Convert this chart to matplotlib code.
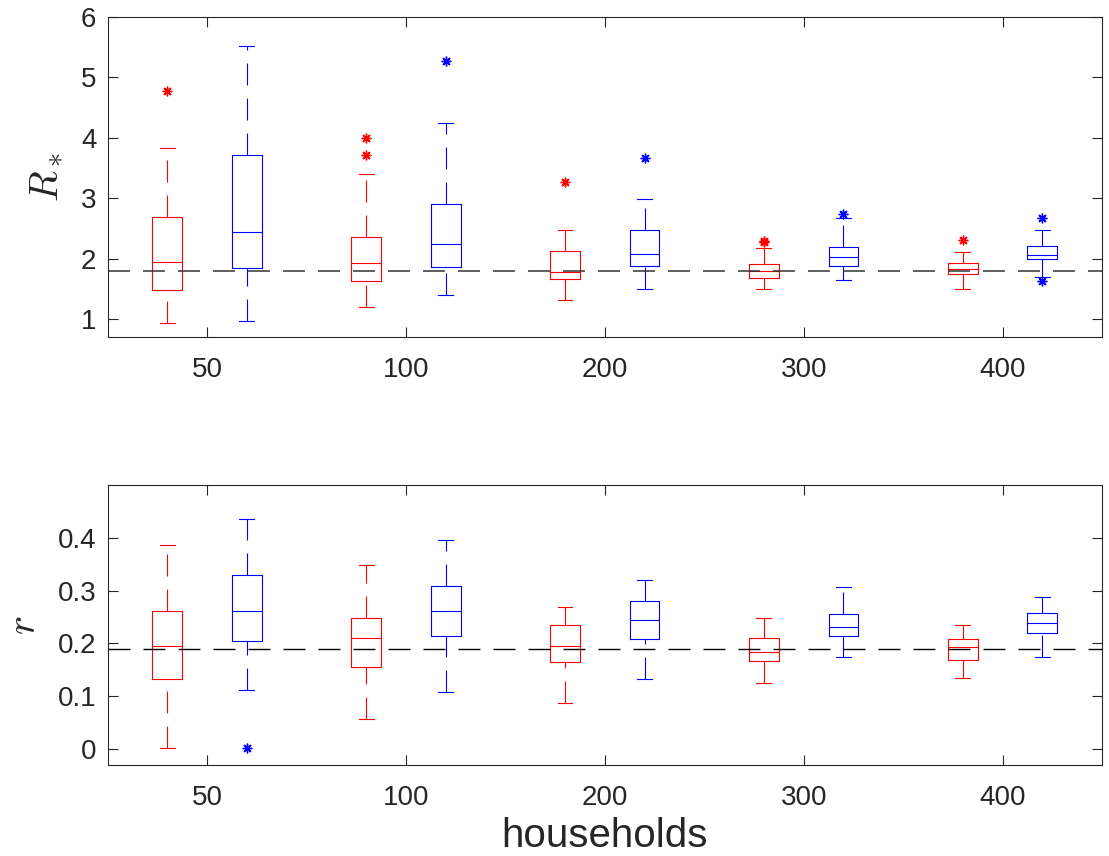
import matplotlib
matplotlib.use("Agg")
import matplotlib.pyplot as plt

plt.rcParams['font.family'] = ['Liberation Sans', 'DejaVu Sans']
plt.rcParams['mathtext.fontset'] = 'cm'
plt.rcParams['lines.scale_dashes'] = False

# ---------------- data ----------------
groups = ['50', '100', '200', '300', '400']

# R_* (top panel)
R_red_whislo = [0.93, 1.20, 1.32, 1.49, 1.49]
R_red_q1 = [1.48, 1.63, 1.66, 1.67, 1.74]
R_red_med = [1.94, 1.92, 1.78, 1.80, 1.82]
R_red_q3 = [2.69, 2.35, 2.13, 1.91, 1.93]
R_red_whishi = [3.83, 3.40, 2.47, 2.18, 2.10]
R_red_fliers = [[4.77], [3.72, 4.00], [3.27], [2.27, 2.29], [2.30]]

R_blue_whislo = [0.96, 1.39, 1.49, 1.65, 1.70]
R_blue_q1 = [1.835, 1.86, 1.87, 1.88, 1.99]
R_blue_med = [2.435, 2.24, 2.07, 2.02, 2.06]
R_blue_q3 = [3.71, 2.91, 2.47, 2.19, 2.21]
R_blue_whishi = [5.52, 4.24, 2.99, 2.67, 2.48]
R_blue_fliers = [[], [5.27], [3.67], [2.74], [2.67, 1.63]]

R_ref = 1.80

# r (bottom panel)
r_red_whislo = [0.003, 0.058, 0.087, 0.126, 0.134]
r_red_q1 = [0.133, 0.156, 0.165, 0.167, 0.168]
r_red_med = [0.196, 0.211, 0.195, 0.183, 0.193]
r_red_q3 = [0.261, 0.249, 0.235, 0.211, 0.208]
r_red_whishi = [0.386, 0.349, 0.270, 0.249, 0.235]
r_red_fliers = [[], [], [], [], []]

r_blue_whislo = [0.112, 0.109, 0.132, 0.174, 0.175]
r_blue_q1 = [0.204, 0.214, 0.208, 0.215, 0.220]
r_blue_med = [0.261, 0.261, 0.245, 0.231, 0.238]
r_blue_q3 = [0.329, 0.309, 0.281, 0.255, 0.257]
r_blue_whishi = [0.435, 0.396, 0.320, 0.306, 0.288]
r_blue_fliers = [[0.003], [], [], [], []]

r_ref = 0.189

# ---------------- style ----------------
TXT = '#262626'
DASH = (0, (15.8, 9.4))
ASTERISK = (8, 2, 0)


def make_stats(lo, q1, med, q3, hi, fl):
    return [dict(whislo=a, q1=b, med=c, q3=d, whishi=e, fliers=f)
            for a, b, c, d, e, f in zip(lo, q1, med, q3, hi, fl)]


def draw_boxes(ax, stats, positions, color):
    lw = 0.8
    res = ax.bxp(stats, positions=positions, widths=0.15, capwidths=0.075,
                 boxprops=dict(color=color, linewidth=lw),
                 medianprops=dict(color=color, linewidth=lw),
                 whiskerprops=dict(color=color, linewidth=lw, linestyle=DASH),
                 capprops=dict(color=color, linewidth=lw),
                 flierprops=dict(marker=ASTERISK, markeredgecolor=color,
                                 markerfacecolor=color, markersize=7,
                                 markeredgewidth=1.0, linestyle='none'),
                 manage_ticks=False)
    # MATLAB draws whiskers from low to high value
    for i, w in enumerate(res['whiskers']):
        if i % 2 == 0:
            x, y = w.get_data()
            w.set_data(list(x)[::-1], list(y)[::-1])
    return res


def style_axes(ax):
    for s in ax.spines.values():
        s.set_color(TXT)
        s.set_linewidth(0.8)
    ax.tick_params(direction='in', length=7, width=0.8, top=True, right=True,
                   labelsize=20, colors=TXT, pad=8)
    ax.tick_params(axis='x', pad=14.5)
    ax.set_xlim(0.5, 5.5)
    ax.set_xticks(range(1, len(groups) + 1))
    ax.set_xticklabels(groups)


fig = plt.figure(figsize=(11.09, 8.56), dpi=100)
W, H = 1109, 856
ax1 = fig.add_axes([107.5 / W, 1 - 337 / H, 994.5 / W, 320 / H])
ax2 = fig.add_axes([107.5 / W, 1 - 765 / H, 994.5 / W, 280 / H])

pos = list(range(1, len(groups) + 1))
pos_red = [p - 0.2 for p in pos]
pos_blue = [p + 0.2 for p in pos]

draw_boxes(ax1, make_stats(R_red_whislo, R_red_q1, R_red_med, R_red_q3,
                           R_red_whishi, R_red_fliers), pos_red, 'red')
draw_boxes(ax1, make_stats(R_blue_whislo, R_blue_q1, R_blue_med, R_blue_q3,
                           R_blue_whishi, R_blue_fliers), pos_blue, 'blue')
ax1.axhline(R_ref, color='#333333', linewidth=1.1, linestyle=DASH, zorder=5)
style_axes(ax1)
ax1.set_ylim(0.7, 6)
ax1.set_yticks([1, 2, 3, 4, 5, 6])
ax1.set_ylabel(r'$R_*$', fontsize=29, color=TXT)
ax1.yaxis.label.set_va('center')
ax1.yaxis.set_label_coords((46 - 107.5) / 994.5, 0.5)

draw_boxes(ax2, make_stats(r_red_whislo, r_red_q1, r_red_med, r_red_q3,
                           r_red_whishi, r_red_fliers), pos_red, 'red')
draw_boxes(ax2, make_stats(r_blue_whislo, r_blue_q1, r_blue_med, r_blue_q3,
                           r_blue_whishi, r_blue_fliers), pos_blue, 'blue')
ax2.axhline(r_ref, color='black', linewidth=1.0, linestyle=DASH, zorder=5)
style_axes(ax2)
ax2.set_ylim(-0.03, 0.5)
ax2.set_yticks([0, 0.1, 0.2, 0.3, 0.4])
ax2.set_yticklabels(['0', '0.1', '0.2', '0.3', '0.4'])
ax2.set_ylabel(r'$r$', fontsize=29, color=TXT)
ax2.yaxis.label.set_va('center')
ax2.yaxis.set_label_coords((24 - 107.5) / 994.5, 0.5)
ax2.set_xlabel('households', fontsize=29, color=TXT, labelpad=4)

fig.savefig('out.png', dpi=100)
